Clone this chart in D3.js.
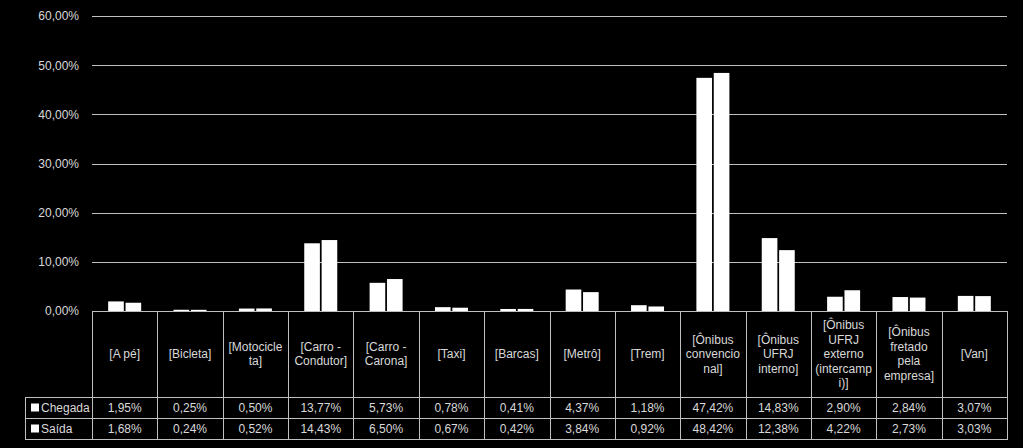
<!DOCTYPE html>
<html><head><meta charset="utf-8">
<script src="https://cdn.jsdelivr.net/npm/d3@7"></script>
<style>
html,body{margin:0;padding:0;background:#000;}
svg{display:block;}
text{font-family:"Liberation Sans",Arial,sans-serif;font-size:12px;fill:#d9d9d9;}
</style></head>
<body>
<svg id="chart" width="1023" height="448"></svg>
<script>
const categories = [
  ["[A pé]"], ["[Bicleta]"], ["[Motocicle","ta]"], ["[Carro -","Condutor]"],
  ["[Carro -","Carona]"], ["[Taxi]"], ["[Barcas]"], ["[Metrô]"], ["[Trem]"],
  ["[Ônibus","convencio","nal]"], ["[Ônibus","UFRJ","interno]"],
  ["[Ônibus","UFRJ","externo","(intercamp","i)]"], ["[Ônibus","fretado","pela","empresa]"], ["[Van]"]
];
const seriesNames = ["Chegada", "Saída"];
const chegada = [1.95,0.25,0.50,13.77,5.73,0.78,0.41,4.37,1.18,47.42,14.83,2.90,2.84,3.07];
const saida   = [1.68,0.24,0.52,14.43,6.50,0.67,0.42,3.84,0.92,48.42,12.38,4.22,2.73,3.03];
const yTicks = [0,10,20,30,40,50,60];

(function(){
const series = [chegada, saida];
const fmt = v => v.toFixed(2).replace(".", ",") + "%";

const svg = d3.select("#chart");
const pLeft = 92, pRight = 1007, pTop = 16, base = 311;
const headerBottom = 397, row1Bottom = 418, row2Bottom = 439, legendLeft = 25;
const lineColor = "#bfbfbf";

const x = d3.scaleBand().domain(d3.range(categories.length)).range([pLeft, pRight]);
const y = d3.scaleLinear().domain([0, 60]).range([base, pTop]);
const xs = d3.scaleBand().domain([0,1]).range([0, 33]).paddingInner(0.1);

// gridlines
svg.append("g").selectAll("line").data(yTicks.filter(d => d > 0)).join("line")
  .attr("x1", pLeft).attr("x2", pRight)
  .attr("y1", d => Math.round(y(d)) + 0.5).attr("y2", d => Math.round(y(d)) + 0.5)
  .attr("stroke", lineColor).attr("stroke-width", 1);

// y axis labels
const yAxis = d3.axisLeft(y).tickValues(yTicks).tickSize(0).tickPadding(13)
  .tickFormat(d => d.toFixed(2).replace(".", ",") + "%");
const ya = svg.append("g").attr("transform", `translate(${pLeft},0)`).call(yAxis);
ya.select(".domain").remove();
ya.selectAll("text").attr("fill", "#d9d9d9").style("font-family", '"Liberation Sans",Arial,sans-serif').style("font-size", "12px");

// bars
series.forEach((s, si) => {
  svg.append("g").selectAll("rect").data(s).join("rect")
    .attr("x", (d, i) => x(i) + x.bandwidth() / 2 - 16.5 + xs(si))
    .attr("width", xs.bandwidth())
    .attr("y", d => y(d))
    .attr("height", d => base - y(d))
    .attr("fill", "#ffffff");
});

// table lines
const tg = svg.append("g").attr("stroke", lineColor).attr("stroke-width", 1);
const hl = (x1, x2, yy) => tg.append("line").attr("x1", x1).attr("x2", x2).attr("y1", yy + 0.5).attr("y2", yy + 0.5);
hl(pLeft, pRight, base);
hl(legendLeft, pRight, headerBottom);
hl(legendLeft, pRight, row1Bottom);
hl(legendLeft, pRight, row2Bottom);
tg.append("line").attr("x1", legendLeft + 0.5).attr("x2", legendLeft + 0.5).attr("y1", headerBottom).attr("y2", row2Bottom + 1);
d3.range(categories.length + 1).forEach(i => {
  const xx = Math.round(i < categories.length ? x(i) : pRight) + 0.5;
  tg.append("line").attr("x1", xx).attr("x2", xx).attr("y1", base).attr("y2", row2Bottom + 1);
});

// header labels
const lh = 14.5;
const hc = (base + headerBottom) / 2;
svg.append("g").selectAll("text").data(categories).join("text")
  .attr("text-anchor", "middle")
  .attr("x", (d, i) => x(i) + x.bandwidth() / 2)
  .attr("y", d => hc - (d.length - 1) * lh / 2 + 4)
  .each(function(d) {
    const t = d3.select(this), x0 = t.attr("x");
    d.forEach((line, k) => t.append("tspan").attr("x", x0).attr("dy", k === 0 ? 0 : lh).text(line));
  });

// data rows
const rowMid = [(headerBottom + row1Bottom) / 2, (row1Bottom + row2Bottom) / 2];
series.forEach((s, si) => {
  svg.append("g").selectAll("text").data(s).join("text")
    .attr("text-anchor", "middle")
    .attr("x", (d, i) => x(i) + x.bandwidth() / 2)
    .attr("y", rowMid[si] + 4.5)
    .text(fmt);
  svg.append("rect").attr("x", 31).attr("y", rowMid[si] - 4).attr("width", 8).attr("height", 8).attr("fill", "#ffffff");
  svg.append("text").attr("x", 41).attr("y", rowMid[si] + 4.5).text(seriesNames[si]);
});
})();
</script>
</body></html>
